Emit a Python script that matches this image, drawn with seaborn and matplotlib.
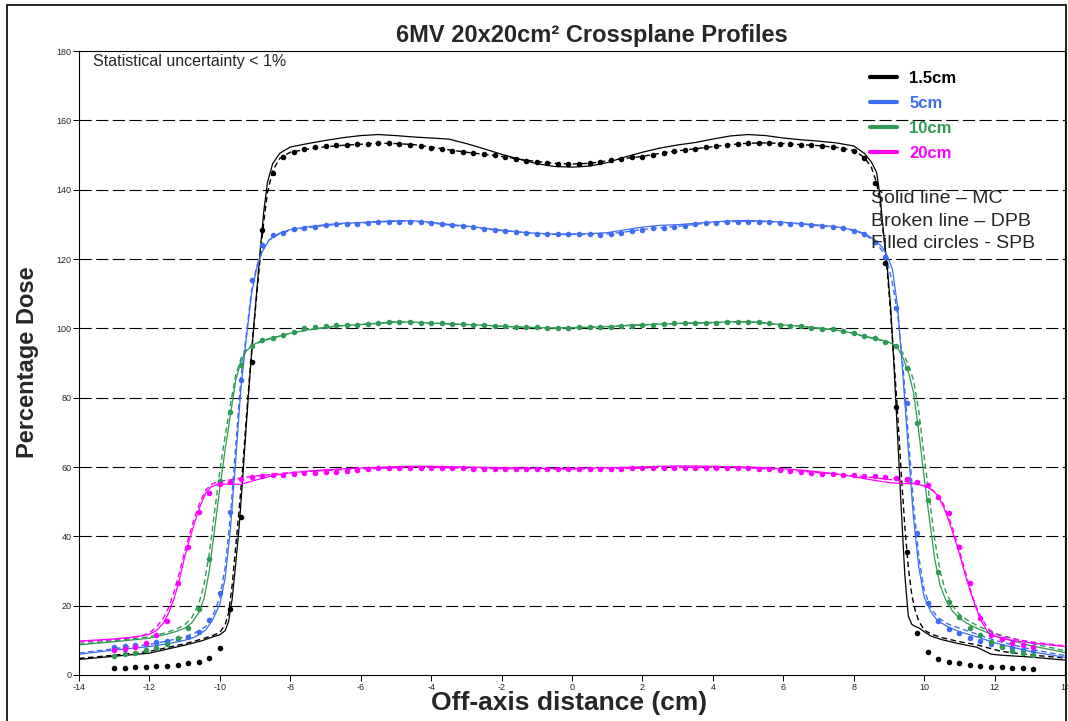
import matplotlib
matplotlib.use("Agg")
import matplotlib.pyplot as plt
from matplotlib.lines import Line2D
from matplotlib.patches import Rectangle
import seaborn as sns

# ---------------------------------------------------------------------------
# Crossplane profiles, 6 MV, 20x20 cm2 field (off-axis distance in cm, dose in %)
# ---------------------------------------------------------------------------
depth_labels = ["1.5cm", "5cm", "10cm", "20cm"]
depth_colors = ["#000000", "#3F6DF2", "#2F9A55", "#FF00FF"]

# MC (solid) and DPB (dashed) sample positions and doses for each depth
x_15 = [-14, -13, -12, -11, -10.5, -10.2, -10.0, -9.85, -9.75, -9.65,
        -9.55, -9.45, -9.35, -9.25, -9.15, -9.05, -8.95, -8.85, -8.75, -8.65,
        -8.5, -8.3, -8.0, -7.5, -7, -6.5, -6, -5.5, -5, -4.5, -4, -3.5, -3,
        -2.5, -2, -1.5, -1, -0.5, 0, 0.5, 1, 1.5, 2, 2.5, 3, 3.5, 4, 4.5, 5,
        5.5, 6, 6.5, 7, 7.5, 8, 8.3, 8.5, 8.65, 8.75, 8.85, 8.95, 9.05, 9.15,
        9.25, 9.35, 9.45, 9.55, 9.65, 9.75, 9.85, 10.0, 10.2, 10.5, 11, 11.5,
        11.9, 12.2, 13, 14]
mc_15 = [4.5, 5.4, 6.3, 8.6, 9.9, 11.0, 11.6, 12.8, 15.5, 22.0,
         32.0, 43.0, 57.0, 72.0, 86.0, 99.0, 111.0, 123.0, 134.0, 142.0,
         147.5, 150.5, 152.3, 153.3, 154.2, 155.0, 155.6, 155.9, 155.6, 155.2,
         154.9, 154.6, 153.3, 151.8, 150.2, 148.8, 147.5, 146.7, 146.5, 146.8,
         147.8, 149.4, 150.8, 152.0, 152.9, 153.6, 154.6, 155.5, 155.9, 155.6,
         154.9, 154.4, 154.0, 153.5, 152.6, 150.5, 148.0, 145.0, 138.0, 127.0,
         118.0, 106.0, 88.0, 68.0, 48.0, 29.0, 17.0, 14.6, 14.0, 13.6,
         12.5, 11.2, 10.2, 9.0, 8.0, 6.0, 5.7, 5.2, 4.3]
dpb_15 = [4.8, 5.7, 6.8, 9.0, 10.4, 11.4, 12.3, 14.5, 18.0, 26.0,
          37.0, 48.0, 60.0, 74.0, 87.0, 99.0, 110.0, 121.0, 131.0, 139.0,
          145.5, 149.0, 150.8, 151.7, 152.4, 152.8, 153.1, 153.4, 153.3, 153.0,
          152.3, 151.5, 150.8, 150.2, 149.6, 148.8, 148.1, 147.6, 147.4, 147.6,
          148.3, 149.0, 149.6, 150.5, 151.2, 151.8, 152.4, 153.0, 153.4, 153.5,
          153.3, 153.0, 152.7, 152.2, 151.3, 149.3, 146.5, 142.0, 136.0, 127.0,
          117.0, 104.0, 90.0, 75.0, 58.0, 43.0, 31.0, 23.0, 18.5, 15.5,
          13.0, 11.8, 10.8, 9.6, 8.7, 7.6, 6.8, 5.8, 4.9]

x_5 = [-14, -13, -12, -11.5, -11, -10.7, -10.4, -10.2, -10.0, -9.85,
       -9.7, -9.55, -9.4, -9.25, -9.1, -8.95, -8.8, -8.6, -8.3, -8,
       -7.5, -7, -6.5, -6, -5.5, -5, -4.5, -4, -3.5, -3, -2.5, -2, -1.5, -1,
       -0.5, 0, 0.5, 1, 1.5, 2, 2.5, 3, 3.5, 4, 4.5, 5, 5.5, 6, 6.5, 7, 7.5,
       8, 8.3, 8.6, 8.8, 8.95, 9.1, 9.25, 9.4, 9.55, 9.7, 9.85, 10.0, 10.2,
       10.4, 10.7, 11, 11.5, 12, 13, 14]
mc_5 = [6.0, 7.2, 8.2, 9.0, 10.0, 11.0, 13.0, 16.0, 20.5, 28.0,
        42.0, 62.0, 83.0, 97.0, 110.0, 117.5, 122.0, 125.5, 127.5, 128.5,
        129.3, 129.9, 130.3, 130.5, 130.8, 131.0, 131.0, 130.6, 130.0, 129.5,
        128.9, 128.3, 127.8, 127.4, 127.2, 127.2, 127.3, 127.6, 128.4, 129.2,
        129.7, 129.9, 130.3, 130.7, 131.0, 131.1, 130.9, 130.6, 130.2, 129.8,
        129.3, 128.4, 127.4, 125.5, 123.5, 121.0, 117.0, 106.0, 86.0, 65.0,
        45.0, 31.0, 22.5, 18.0, 15.5, 13.8, 12.5, 11.0, 9.3, 6.8, 5.1]
dpb_5 = [6.3, 7.6, 8.8, 9.8, 11.0, 12.2, 14.0, 17.0, 22.5, 31.0,
         46.0, 66.0, 86.0, 98.0, 111.0, 118.0, 122.5, 125.5, 127.3, 128.2,
         129.0, 129.7, 130.1, 130.3, 130.7, 130.9, 130.9, 130.4, 129.8, 129.4,
         128.7, 128.2, 127.8, 127.3, 127.1, 127.1, 127.1, 127.2, 127.8, 128.5,
         129.0, 129.4, 130.0, 130.5, 130.8, 130.9, 130.8, 130.5, 130.1, 129.6,
         129.2, 128.2, 127.2, 125.0, 122.5, 119.5, 113.0, 104.0, 89.0, 69.0,
         49.0, 34.0, 24.5, 19.0, 16.5, 14.6, 13.5, 11.8, 10.0, 7.5, 5.6]

x_10 = [-14, -13, -12, -11.5, -11.2, -11, -10.8, -10.6, -10.45, -10.3,
        -10.15, -10.0, -9.85, -9.7, -9.55, -9.4, -9.25, -9.05, -8.8, -8.5,
        -8.2, -8, -7.5, -7, -6.5, -6, -5.5, -5, -4.5, -4, -3.5, -3, -2.5, -2,
        -1.5, -1, -0.5, 0, 0.5, 1, 1.5, 2, 2.5, 3, 3.5, 4, 4.5, 5, 5.5, 6,
        6.5, 7, 7.5, 8, 8.2, 8.5, 8.8, 9.05, 9.25, 9.4, 9.55, 9.7, 9.85, 10.0,
        10.15, 10.3, 10.45, 10.6, 10.8, 11, 11.2, 11.5, 12, 13, 14]
mc_10 = [8.7, 9.6, 10.6, 11.8, 12.7, 13.5, 15.0, 18.0, 22.0, 30.0,
         42.0, 54.0, 65.0, 75.0, 85.0, 90.5, 93.5, 95.3, 96.5, 97.3,
         98.0, 98.6, 99.6, 100.3, 100.8, 101.1, 101.5, 101.8, 101.8, 101.5,
         101.3, 101.1, 100.9, 100.6, 100.4, 100.2, 100.1, 100.2, 100.3, 100.5,
         100.8, 101.0, 101.2, 101.4, 101.6, 101.7, 101.9, 101.9, 101.5, 101.0,
         100.6, 100.1, 99.5, 98.6, 98.0, 97.3, 96.6, 95.8, 94.3, 91.5,
         87.5, 81.5, 70.0, 57.0, 45.0, 33.5, 26.0, 22.0, 18.5, 16.5,
         15.0, 13.5, 11.3, 8.5, 6.5]
dpb_10 = [8.9, 9.9, 11.0, 12.3, 13.4, 14.5, 16.5, 20.5, 26.0, 35.0,
          47.0, 59.0, 69.0, 78.0, 86.5, 91.3, 93.8, 95.2, 96.3, 97.2,
          98.0, 98.6, 99.5, 100.2, 100.8, 101.1, 101.4, 101.9, 101.7, 101.5,
          101.3, 101.1, 100.9, 100.6, 100.4, 100.2, 100.1, 100.2, 100.3, 100.5,
          100.8, 101.0, 101.3, 101.4, 101.5, 101.6, 101.8, 101.9, 101.5, 100.9,
          100.5, 100.0, 99.4, 98.5, 97.9, 97.2, 96.5, 95.8, 94.8, 92.8,
          89.5, 85.0, 76.0, 63.0, 51.0, 39.0, 30.0, 24.5, 20.0, 17.5,
          16.0, 14.3, 12.0, 9.2, 7.0]

x_20 = [-14, -13, -12.5, -12.2, -12.0, -11.8, -11.6, -11.45, -11.3, -11.15,
        -11.0, -10.85, -10.7, -10.55, -10.4, -10.25, -10.0, -9.7, -9.4, -9,
        -8.5, -8, -7.5, -7, -6.5, -6, -5.5, -5, -4.5, -4, -3.5, -3, -2.5, -2,
        -1.5, -1, -0.5, 0, 0.5, 1, 1.5, 2, 2.5, 3, 3.5, 4, 4.5, 5, 5.5, 6,
        6.5, 7, 7.5, 8, 8.5, 9, 9.4, 9.7, 10.0, 10.25, 10.4, 10.55, 10.7,
        10.85, 11.0, 11.15, 11.3, 11.45, 11.6, 11.8, 12.0, 12.2, 12.5, 13, 14]
mc_20 = [9.8, 10.4, 10.9, 11.3, 11.8, 12.8, 15.0, 18.0, 22.0, 27.5,
         34.0, 39.5, 44.5, 49.0, 52.5, 54.3, 55.2, 55.0, 55.0, 56.2,
         57.5, 58.3, 58.8, 59.2, 59.5, 59.7, 59.9, 60.1, 60.2, 60.2,
         60.1, 60.0, 59.9, 59.8, 59.7, 59.6, 59.6, 59.6, 59.7, 59.8,
         59.9, 60.0, 60.2, 60.3, 60.3, 60.2, 60.1, 60.0, 59.8, 59.5,
         59.1, 58.6, 58.0, 57.2, 56.3, 55.5, 55.2, 55.2, 54.6, 53.3,
         51.5, 48.5, 44.5, 40.0, 35.0, 29.5, 24.5, 20.0, 16.0, 12.5,
         11.2, 10.6, 10.0, 9.3, 8.2]
dpb_20 = [9.5, 10.2, 10.8, 11.4, 12.2, 13.8, 16.5, 19.5, 24.0, 29.5,
          35.5, 41.0, 46.0, 50.2, 53.3, 55.0, 55.9, 56.3, 56.8, 57.4,
          57.9, 58.4, 58.7, 59.0, 59.2, 59.4, 59.6, 59.8, 59.9, 59.9,
          59.8, 59.7, 59.6, 59.5, 59.5, 59.4, 59.4, 59.4, 59.5, 59.5,
          59.6, 59.7, 59.8, 59.9, 59.9, 59.9, 59.8, 59.7, 59.5, 59.2,
          58.8, 58.4, 58.0, 57.5, 57.0, 56.4, 55.9, 55.4, 54.5, 53.2,
          51.8, 49.2, 45.5, 41.0, 36.0, 30.5, 25.0, 20.5, 17.0, 13.5,
          12.0, 11.2, 10.5, 9.6, 8.4]

# SPB calculation points (3 mm grid)
spb_x = [-13.0, -12.7, -12.4, -12.1, -11.8, -11.5, -11.2, -10.9, -10.6, -10.3,
         -10.0, -9.7, -9.4, -9.1, -8.8, -8.5, -8.2, -7.9, -7.6, -7.3,
         -7.0, -6.7, -6.4, -6.1, -5.8, -5.5, -5.2, -4.9, -4.6, -4.3,
         -4.0, -3.7, -3.4, -3.1, -2.8, -2.5, -2.2, -1.9, -1.6, -1.3,
         -1.0, -0.7, -0.4, -0.1, 0.2, 0.5, 0.8, 1.1, 1.4, 1.7,
         2.0, 2.3, 2.6, 2.9, 3.2, 3.5, 3.8, 4.1, 4.4, 4.7,
         5.0, 5.3, 5.6, 5.9, 6.2, 6.5, 6.8, 7.1, 7.4, 7.7,
         8.0, 8.3, 8.6, 8.9, 9.2, 9.5, 9.8, 10.1, 10.4, 10.7,
         11.0, 11.3, 11.6, 11.9, 12.2, 12.5, 12.8, 13.1]
spb_15 = [1.9, 1.9, 2.4, 2.4, 2.7, 2.7, 2.9, 3.4, 3.8, 4.8,
          7.7, 19.0, 45.7, 90.4, 128.4, 144.9, 149.5, 151.0, 151.6, 152.2,
          152.6, 152.8, 153.0, 153.2, 153.3, 153.4, 153.4, 153.2, 153.0, 152.6,
          152.1, 151.7, 151.2, 150.8, 150.5, 150.3, 149.9, 149.3, 148.8, 148.3,
          148.0, 147.7, 147.5, 147.4, 147.4, 147.6, 148.0, 148.5, 148.9, 149.3,
          149.5, 150.0, 150.6, 151.1, 151.5, 151.8, 152.2, 152.6, 153.0, 153.3,
          153.5, 153.6, 153.5, 153.3, 153.2, 153.0, 152.8, 152.5, 152.2, 151.8,
          151.2, 149.0, 141.9, 118.8, 77.4, 35.6, 12.0, 6.7, 4.5, 3.8,
          3.4, 2.9, 2.7, 2.4, 2.4, 2.1, 2.0, 1.8]
spb_5 = [8.0, 8.3, 8.7, 9.0, 9.4, 9.8, 10.3, 11.0, 12.3, 15.9,
         23.6, 47.1, 85.1, 113.9, 124.0, 127.0, 127.6, 128.6, 129.0, 129.3,
         129.8, 130.0, 130.1, 130.2, 130.3, 130.8, 130.8, 130.8, 130.8, 130.8,
         130.3, 130.0, 129.7, 129.5, 129.3, 128.6, 128.4, 128.1, 127.8, 127.6,
         127.3, 127.1, 127.1, 127.1, 127.2, 127.1, 127.0, 127.2, 127.5, 128.2,
         128.4, 128.8, 129.0, 129.3, 129.6, 130.0, 130.3, 130.5, 130.8, 130.8,
         130.8, 130.8, 130.7, 130.5, 130.2, 130.0, 129.8, 129.5, 129.3, 128.8,
         128.2, 127.3, 125.0, 120.5, 106.0, 78.4, 40.9, 20.7, 15.5, 13.4,
         12.0, 10.8, 9.8, 9.0, 8.4, 7.8, 7.3, 6.9]
spb_10 = [5.5, 6.0, 6.4, 7.1, 7.9, 8.9, 10.6, 13.7, 19.0, 33.6,
          56.0, 76.0, 89.4, 94.8, 96.5, 97.3, 98.1, 99.0, 100.0, 100.3,
          100.7, 100.9, 101.0, 101.1, 101.2, 101.4, 101.7, 101.9, 101.8, 101.6,
          101.5, 101.4, 101.3, 101.2, 101.1, 101.0, 100.8, 100.6, 100.5, 100.4,
          100.3, 100.2, 100.2, 100.2, 100.3, 100.3, 100.4, 100.5, 100.7, 100.8,
          101.0, 101.1, 101.2, 101.4, 101.4, 101.5, 101.6, 101.6, 101.7, 101.8,
          101.9, 101.7, 101.4, 101.0, 100.8, 100.6, 100.2, 99.9, 99.7, 99.2,
          98.6, 97.8, 97.1, 96.2, 95.0, 88.5, 72.6, 50.5, 29.8, 21.1,
          16.8, 13.5, 11.5, 9.5, 8.0, 7.0, 6.3, 5.8]
spb_20 = [7.2, 7.4, 8.2, 9.3, 11.5, 15.7, 26.4, 37.0, 47.1, 52.5,
          55.0, 55.8, 56.5, 57.2, 57.5, 57.6, 57.7, 58.0, 58.4, 58.2,
          58.5, 58.7, 58.8, 59.1, 59.4, 59.6, 59.7, 59.8, 59.8, 59.8,
          59.7, 59.7, 59.6, 59.6, 59.5, 59.5, 59.4, 59.4, 59.4, 59.4,
          59.4, 59.4, 59.4, 59.4, 59.4, 59.4, 59.5, 59.5, 59.5, 59.6,
          59.6, 59.7, 59.7, 59.8, 59.8, 59.8, 59.8, 59.8, 59.7, 59.7,
          59.6, 59.5, 59.3, 59.1, 58.8, 58.6, 58.3, 58.0, 57.9, 57.7,
          57.7, 57.5, 57.4, 57.0, 56.7, 56.4, 55.8, 54.8, 51.4, 46.6,
          37.0, 26.4, 16.5, 11.5, 10.3, 9.3, 8.7, 8.2]

x_ticks = [-14, -12, -10, -8, -6, -4, -2, 0, 2, 4, 6, 8, 10, 12, 14]
y_ticks = [0, 20, 40, 60, 80, 100, 120, 140, 160, 180]
grid_levels = [20, 40, 60, 80, 100, 120, 140, 160]

line_x = [x_15, x_5, x_10, x_20]
mc_doses = [mc_15, mc_5, mc_10, mc_20]
dpb_doses = [dpb_15, dpb_5, dpb_10, dpb_20]
spb_doses = [spb_15, spb_5, spb_10, spb_20]

# ---------------------------------------------------------------------------
sns.set_style("white")
plt.rcParams["font.family"] = ["Liberation Sans", "DejaVu Sans"]
plt.rcParams["axes.unicode_minus"] = False

W, H = 1068, 721
fig = plt.figure(figsize=(W / 100, H / 100), dpi=100)
fig.patch.set_facecolor("white")


def fx(px):
    return px / W


def fy(py):
    return 1 - py / H


ax = fig.add_axes([fx(79), fy(675), (1065 - 79) / W, (675 - 51) / H])

# dashed horizontal reference lines
for level in grid_levels:
    ax.axhline(level, color="black", lw=0.8, dashes=(11, 4), zorder=0)

for xs, mc, dpb, spb, col in zip(line_x, mc_doses, dpb_doses, spb_doses, depth_colors):
    sns.lineplot(x=xs, y=mc, ax=ax, color=col, lw=0.9, sort=False,
                 estimator=None, legend=False)
    sns.lineplot(x=xs, y=dpb, ax=ax, color=col, lw=1.0, sort=False,
                 estimator=None, legend=False, linestyle=(0, (4, 2.5)))
    sns.scatterplot(x=spb_x, y=spb, ax=ax, color=col, s=16, linewidth=0,
                    marker="o", legend=False, zorder=4)

ax.set_xlim(-14, 14)
ax.set_ylim(0, 180)
ax.set_xticks(x_ticks)
ax.set_yticks(y_ticks)
ax.set_xticklabels([str(t) for t in x_ticks])
ax.set_yticklabels([str(t) for t in y_ticks])
ax.tick_params(axis="both", which="both", direction="out", length=4, width=0.7,
               labelsize=6.5, color="black", pad=1.5, left=True, bottom=True)
for side in ["left", "bottom", "top", "right"]:
    ax.spines[side].set_visible(True)
    ax.spines[side].set_color("black")
    ax.spines[side].set_linewidth(0.8)

ax.set_xlabel("Off-axis distance (cm)", fontsize=19, fontweight="bold")
ax.xaxis.set_label_coords((569 - 79) / 986, (675 - 691) / 624)
ax.set_ylabel("Percentage Dose", fontsize=17, fontweight="bold")
ax.yaxis.set_label_coords((39 - 79) / 986, (675 - 362) / 624)

# legend: depth colours
handles = [Line2D([0], [0], color=c, lw=3) for c in depth_colors]
leg = ax.legend(handles, depth_labels, loc="upper left",
                bbox_to_anchor=(fx(870), fy(71)), bbox_transform=fig.transFigure,
                frameon=False, handlelength=1.6, handletextpad=0.75,
                labelspacing=0.6, borderpad=0, borderaxespad=0,
                prop={"weight": "bold", "size": 12})
for txt, c in zip(leg.get_texts(), depth_colors):
    txt.set_color(c)

fig.text(fx(592), fy(42), "6MV 20x20cm² Crossplane Profiles", ha="center",
         va="baseline", fontsize=17, fontweight="bold")
fig.text(fx(93), fy(66), "Statistical uncertainty < 1%", ha="left",
         va="baseline", fontsize=11.5)
for label, base in zip(["Solid line – MC", "Broken line – DPB", "Filled circles - SPB"],
                       [203, 226, 248]):
    fig.text(fx(871), fy(base), label, ha="left", va="baseline", fontsize=14)

# outer frame of the figure
fig.patches.append(Rectangle((fx(7), -0.02), fx(1066) - fx(7), fy(5) + 0.02,
                             transform=fig.transFigure, fill=False,
                             edgecolor="black", lw=1.2))

fig.savefig("out.png", dpi=100, facecolor="white")
